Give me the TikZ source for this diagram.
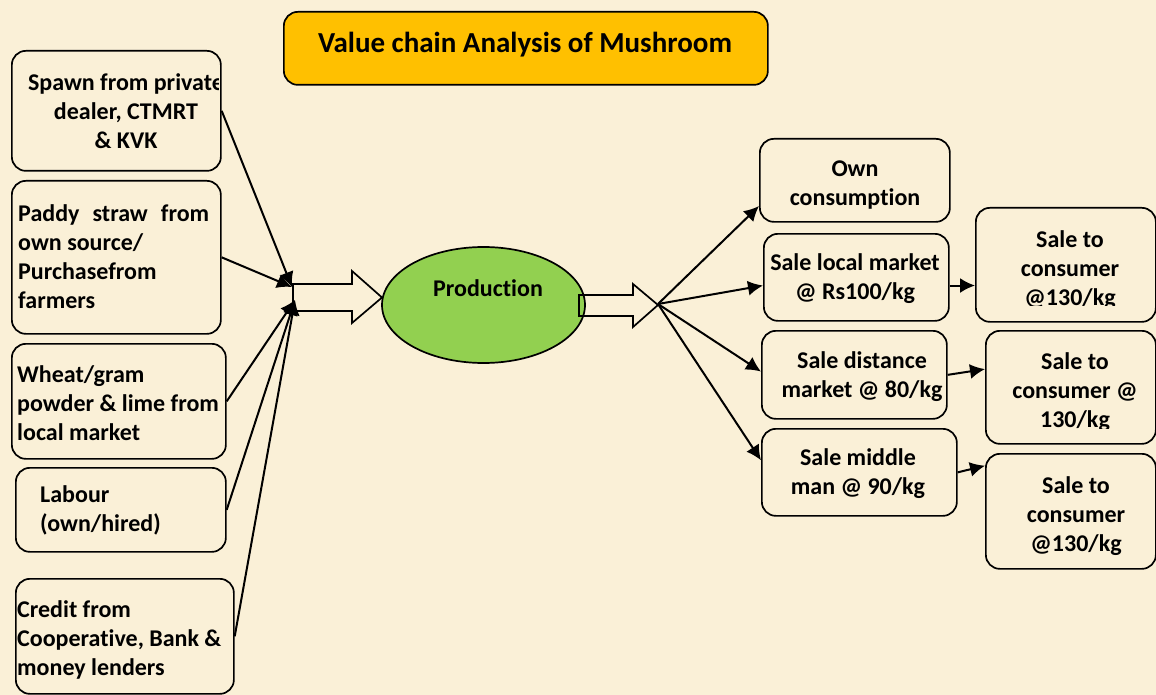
\documentclass[tikz,border=0pt]{standalone}
\usepackage{fontspec}
\setmainfont{Carlito}[Ligatures={NoCommon}]
\usetikzlibrary{arrows.meta,calc,shapes.geometric}
\definecolor{bg}{RGB}{250,240,215}
\definecolor{titlefill}{RGB}{255,192,0}
\definecolor{prodfill}{RGB}{146,208,80}
\begin{document}
\begin{tikzpicture}[x=1pt,y=-1pt,
  box/.style={draw, rounded corners=14pt, line width=1.7pt, inner sep=0pt, anchor=north west},
  txt/.style={font=\bfseries\fontsize{24}{29}\selectfont, inner sep=0pt},
  conn/.style={line width=2pt, -{Latex[length=15pt,width=15pt]}},
  barrow/.style={line width=1.7pt, line join=miter}]
\useasboundingbox (0,0) rectangle (1156,695);
\fill[bg] (0,0) rectangle (1156,695);

% title
\node[box, fill=titlefill, minimum width=484pt, minimum height=73pt] (title) at (283,11) {};
\node[txt, font=\bfseries\fontsize{29}{34}\selectfont] (ttitle) at (525,45) {Value chain Analysis of Mushroom};

% left boxes
\node[box, minimum width=209pt, minimum height=120pt] (spawn) at (11,50) {};
\node[box, minimum width=209pt, minimum height=153pt] (paddy) at (11,180) {};
\node[box, minimum width=214pt, minimum height=115pt] (wheat) at (11,343) {};
\node[box, minimum width=210pt, minimum height=84pt] (labour) at (15,467) {};
\node[box, minimum width=218pt, minimum height=115pt] (credit) at (15,578) {};

\begin{scope}
\clip (spawn.north west) rectangle ($(spawn.south east)+(-3,0)$);
\node[txt, align=center] (tspawn) at (126,111) {Spawn from private\\dealer, CTMRT\\\& KVK};
\end{scope}
\node[txt, align=left, anchor=west] (tpaddy) at (18,256.5) {\makebox[191pt][s]{Paddy straw from}\\own source/\\Purchasefrom\\farmers};
\node[txt, align=left, anchor=west] (twheat) at (17,402.7) {Wheat/gram\\powder \& lime from\\local market};
\node[txt, align=left, anchor=west] (tlabour) at (40,510.5) {Labour\\(own/hired)};
\node[txt, align=left, anchor=west] (tcredit) at (17,640) {Credit from\\Cooperative, Bank \&\\money lenders};

% production
\node[ellipse, draw, fill=prodfill, line width=1.7pt, minimum width=203pt, minimum height=116pt, inner sep=0pt] (prod) at (483.5,305) {};
\node[txt] (tprod) at (488,288) {Production};

% block arrows
\draw[barrow] (293,284) -- (352,284) -- (352,271) -- (382,297.5) -- (352,323) -- (352,311) -- (293,311) -- cycle;
\draw[barrow] (579,295) -- (633,295) -- (633,284) -- (658,305) -- (633,327) -- (633,316) -- (579,316) -- cycle;

% left connectors
\coordinate (inA) at (292,287);
\coordinate (inB) at (295,300);
\draw[conn] (spawn.east) -- (inA);
\draw[conn] (paddy.east) -- (inA);
\draw[conn] (wheat.east) -- (inB);
\draw[conn] (labour.east) -- (inB);
\draw[conn] (credit.east) -- (inB);

% right boxes
\node[box, minimum width=190pt, minimum height=83pt] (own) at (759,138) {};
\node[box, minimum width=185pt, minimum height=87pt] (local) at (763,233) {};
\node[box, minimum width=180pt, minimum height=114pt] (cons1) at (975,207) {};
\node[box, minimum width=185pt, minimum height=88pt] (dist) at (761,330) {};
\node[box, minimum width=170pt, minimum height=113pt] (cons2) at (985,330) {};
\node[box, minimum width=195pt, minimum height=87pt] (middle) at (761,428) {};
\node[box, minimum width=170pt, minimum height=115pt] (cons3) at (985,453) {};

\node[txt, align=center] (town) at (855,185) {Own\\consumption};
\node[txt, align=center] (tlocal) at (855,279) {Sale local market\\@ Rs100/kg};
\begin{scope}
\clip (975,207) rectangle (1156,305);
\node[txt, align=center] (tcons1) at (1070,270.5) {Sale to\\consumer\\@130/kg};
\end{scope}
\node[txt, align=center] (tdist) at (862,376.5) {Sale distance\\market @ 80/kg};
\begin{scope}
\clip (985,330) rectangle (1156,428);
\node[txt, align=center] (tcons2) at (1075,392) {Sale to\\consumer @\\130/kg};
\end{scope}
\node[txt, align=center] (tmiddle) at (858,473.5) {Sale middle\\man @ 90/kg};
\node[txt, align=center] (tcons3) at (1076,516.5) {Sale to\\consumer\\@130/kg};

% right connectors
\coordinate (hub) at (658,304);
\draw[conn] (hub) -- (own.195);
\draw[conn] (hub) -- (local.185);
\draw[conn] (hub) -- (dist.178);
\draw[conn] (hub) -- (middle.173);
\draw[conn] (local.355) -- (local.355 -| cons1.west);
\draw[conn] (dist.east) -- (cons2.168);
\draw[conn] (middle.east) -- (cons3.152);
\end{tikzpicture}
\end{document}
